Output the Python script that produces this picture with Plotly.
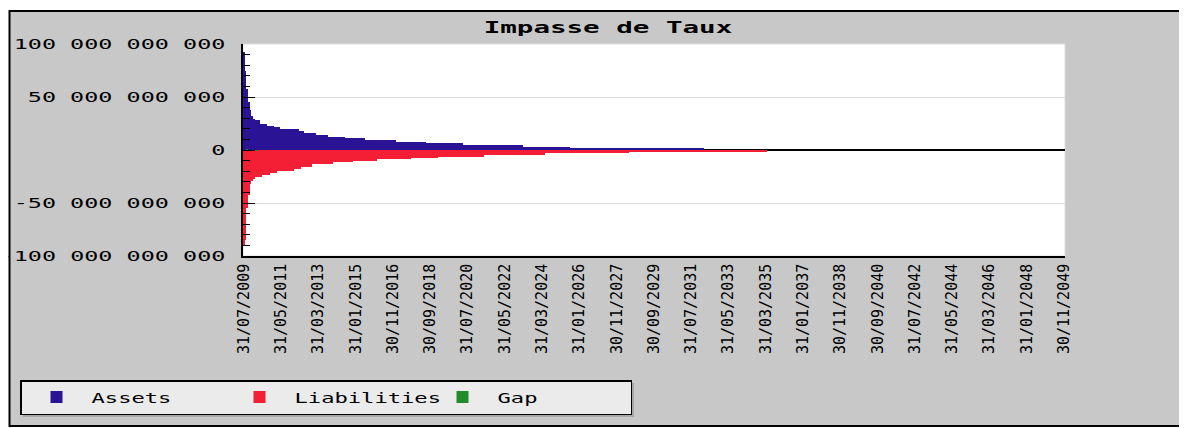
import plotly.graph_objects as go
import pandas as pd

# month ends from 31/07/2009 to 30/11/2049
months = pd.date_range('2009-07-31', periods=485, freq='ME').strftime('%d/%m/%Y').tolist()
tick_months = months[::22]

# staircase values: value and number of months it lasts
assets_values = [92e9, 75e9, 58e9, 45e9, 38e9, 32e9, 29e9, 28e9, 25e9, 22.6e9, 21.3e9, 19.6e9,
                 17.9e9, 15.7e9, 13.8e9, 12.6e9, 11e9, 9.4e9, 7.8e9, 6.3e9, 4.7e9, 3e9, 1.5e9, 0]
assets_months = [1, 1, 1, 1, 1, 1, 1, 3, 4, 4, 4, 11, 3, 7, 7, 10, 12, 18, 18, 22, 35, 28, 79, 213]

liab_values = [-91e9, -85e9, -55e9, -42e9, -32e9, -29e9, -27e9, -25e9, -23.6e9, -21.4e9, -19.5e9,
               -17.6e9, -15.7e9, -13.5e9, -11.6e9, -10.1e9, -8.5e9, -7.6e9, -6.3e9, -4.7e9,
               -2.8e9, -1.3e9, 0]
liab_months = [1, 1, 1, 1, 1, 1, 1, 4, 5, 4, 10, 4, 7, 12, 12, 14, 20, 16, 27, 36, 50, 81, 176]

gap_values = [0, 0.6e9, 0, -0.6e9, 0]
gap_months = [2, 1, 5, 1, 476]

y_ticks = [-100e9, -50e9, 0, 50e9, 100e9]
y_labels = ['-100 000 000 000', '-50 000 000 000', '0', '50 000 000 000', '100 000 000 000']


def expand(values, counts):
    out = []
    for v, n in zip(values, counts):
        out += [v] * n
    return out


# figure pixels -> paper coords (plot area is x 235..1057, y 36..248)
def px(x):
    return (x - 235) / 822


def py(y):
    return (248 - y) / 212


mono = 'DejaVu Sans Mono'

fig = go.Figure()

fig.add_trace(
    go.Bar(
        x = months,
        y = expand(assets_values, assets_months),
        name = 'Assets',
        marker = {'color': '#2b1396', 'line': {'width': 0}}
    )
)

fig.add_trace(
    go.Bar(
        x = months,
        y = expand(liab_values, liab_months),
        name = 'Liabilities',
        marker = {'color': '#f41f35', 'line': {'width': 0}}
    )
)

fig.add_trace(
    go.Bar(
        x = months,
        y = expand(gap_values, gap_months),
        name = 'Gap',
        marker = {'color': '#228b2a', 'line': {'width': 0}}
    )
)

# grey panel, white plot area on top of it, then the black frame
fig.add_shape(type='rect', xref='paper', yref='paper', layer='below',
              x0=px(1.5), x1=px(1200), y0=py(418), y1=py(3),
              fillcolor='#c8c8c8', line={'width': 0})
fig.add_shape(type='rect', xref='paper', yref='paper', layer='below',
              x0=0, x1=1, y0=0, y1=1,
              fillcolor='white', line={'color': '#dcdcdc', 'width': 1})
fig.add_shape(type='rect', xref='paper', yref='paper', layer='above',
              x0=px(-30), x1=px(0.5), y0=py(440), y1=py(-20),
              fillcolor='white', line={'width': 0})
fig.add_shape(type='rect', xref='paper', yref='paper', layer='above',
              x0=px(1.5), x1=px(1200), y0=py(418), y1=py(3),
              line={'color': 'black', 'width': 2})
# soft shadow under the legend box
fig.add_shape(type='rect', xref='paper', yref='paper', layer='above',
              x0=px(15), x1=px(626), y0=py(409), y1=py(375),
              fillcolor='#a8a8a8', line={'width': 0})

fig.update_layout(
    width = 1179,
    height = 420,
    margin = {'l': 235, 'r': 122, 't': 36, 'b': 172},
    paper_bgcolor = 'white',
    plot_bgcolor = 'white',
    barmode = 'overlay',
    bargap = 0,
    showlegend = True,
    title = {
        'text': '<b>Impasse de Taux</b>',
        'x': 600 / 1179,
        'xanchor': 'center',
        'y': 1 - 19 / 420,
        'yanchor': 'middle',
        'font': {'family': mono, 'size': 16, 'color': 'black'}
    },
    legend = {
        'orientation': 'h',
        'x': px(12),
        'y': py(372),
        'xanchor': 'left',
        'yanchor': 'top',
        'bgcolor': '#ebebeb',
        'bordercolor': 'black',
        'borderwidth': 1.5,
        'font': {'family': mono, 'size': 14, 'color': 'black'},
        'entrywidth': 128,
        'itemwidth': 60,
        'traceorder': 'normal'
    },
    xaxis = {
        'type': 'category',
        'range': [-0.5, 484.5],
        'tickmode': 'array',
        'tickvals': tick_months,
        'ticktext': tick_months,
        'tickangle': -90,
        'ticks': '',
        'showgrid': False,
        'showline': True,
        'linecolor': 'black',
        'linewidth': 1.5,
        'tickfont': {'family': mono, 'size': 15, 'color': 'black'}
    },
    yaxis = {
        'range': [-100e9, 100e9],
        'tickmode': 'array',
        'tickvals': y_ticks,
        'ticktext': y_labels,
        'ticks': 'inside',
        'ticklen': 12,
        'tickcolor': 'black',
        'showline': True,
        'linecolor': 'black',
        'linewidth': 1.5,
        'showgrid': True,
        'gridcolor': '#dcdcdc',
        'zeroline': True,
        'zerolinecolor': 'black',
        'zerolinewidth': 1.5,
        'layer': 'above traces',
        'ticklabelstandoff': 13,
        'minor': {'tickmode': 'linear', 'tick0': 0, 'dtick': 10e9, 'ticks': 'inside',
                  'ticklen': 7, 'tickcolor': 'black', 'showgrid': False},
        'tickfont': {'family': mono, 'size': 14, 'color': 'black'}
    }
)

# the original chart's lettering is stretched sideways; widen the glyphs to match
stretch_js = """
var gd = document.getElementById('{plot_id}');
function widen(sel, k) {
    gd.querySelectorAll(sel).forEach(function (t) {
        if (t.getAttribute('lengthAdjust')) { return; }
        var w = t.getComputedTextLength();
        t.setAttribute('textLength', w * k);
        t.setAttribute('lengthAdjust', 'spacingAndGlyphs');
    });
}
function stretch() {
    widen('.ytick text', 1.675);
    widen('.gtitle', 1.72);
    widen('.legendtext', 1.58);
}
stretch();
gd.on('plotly_afterplot', stretch);
"""

fig.write_html("out.html", post_script=stretch_js)
